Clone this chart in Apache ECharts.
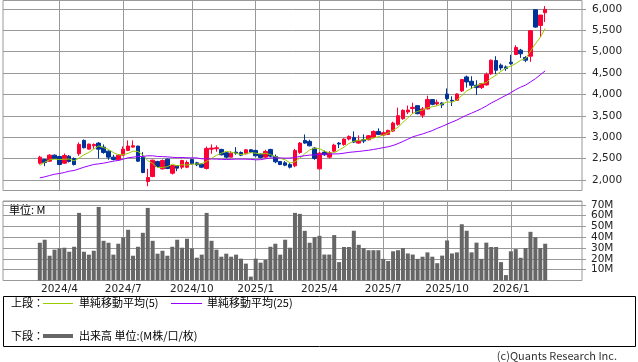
<!DOCTYPE html>
<html><head><meta charset="utf-8">
<script src="https://cdn.jsdelivr.net/npm/echarts/dist/echarts.min.js"></script>
<style>html,body{margin:0;padding:0;background:#fff}#c{width:638px;height:362px}</style>
</head><body><div id="c"></div>
<script>
// weekly slots (Monday dates), including empty weeks at both ends of the axis
const categories = [
'2024/1/15','2024/1/22','2024/1/29','2024/2/5','2024/2/12','2024/2/19','2024/2/26',
'2024/3/4','2024/3/11','2024/3/18','2024/3/25','2024/4/1','2024/4/8','2024/4/15','2024/4/22','2024/4/29',
'2024/5/6','2024/5/13','2024/5/20','2024/5/27','2024/6/3','2024/6/10','2024/6/17','2024/6/24',
'2024/7/1','2024/7/8','2024/7/15','2024/7/22','2024/7/29','2024/8/5','2024/8/12','2024/8/19','2024/8/26',
'2024/9/2','2024/9/9','2024/9/16','2024/9/23','2024/9/30','2024/10/7','2024/10/14','2024/10/21','2024/10/28',
'2024/11/4','2024/11/11','2024/11/18','2024/11/25','2024/12/2','2024/12/9','2024/12/16','2024/12/23','2024/12/30',
'2025/1/6','2025/1/13','2025/1/20','2025/1/27','2025/2/3','2025/2/10','2025/2/17','2025/2/24',
'2025/3/3','2025/3/10','2025/3/17','2025/3/24','2025/3/31','2025/4/7','2025/4/14','2025/4/21','2025/4/28',
'2025/5/5','2025/5/12','2025/5/19','2025/5/26','2025/6/2','2025/6/9','2025/6/16','2025/6/23','2025/6/30',
'2025/7/7','2025/7/14','2025/7/21','2025/7/28','2025/8/4','2025/8/11','2025/8/18','2025/8/25',
'2025/9/1','2025/9/8','2025/9/15','2025/9/22','2025/9/29','2025/10/6','2025/10/13','2025/10/20','2025/10/27',
'2025/11/3','2025/11/10','2025/11/17','2025/11/24','2025/12/1','2025/12/8','2025/12/15','2025/12/22','2025/12/29',
'2026/1/5','2026/1/12','2026/1/19','2026/1/26','2026/2/2','2026/2/9','2026/2/16','2026/2/23',
'2026/3/2','2026/3/9','2026/3/16','2026/3/23','2026/3/30','2026/4/6','2026/4/13'
];
const firstWeek = '2024/3/4';

const opens = [2390,2477,2437,2578,2547,2390,2555,2500,2610,2923,2719,2798,2860,2766,2672,2531,2469,2578,2688,2766,
2790,2531,1960,2077,2430,2257,2484,2155,2335,2296,2296,2477,2398,2367,2265,2719,2727,2711,2633,2531,
2649,2641,2610,2704,2688,2602,2531,2711,2547,2430,2398,2359,2328,2641,2923,2900,2743,2257,2649,2531,
2672,2860,2829,2954,2993,2860,2939,2939,3001,3134,3048,3064,3142,3299,3432,3588,3670,3737,3515,3660,
3879,3776,3799,4010,3862,3862,4082,4410,4309,4215,4160,4223,4481,4794,4685,4645,4755,4935,5037,4865,
4896,5984,5616,5914];
const closes = [2531,2406,2578,2500,2359,2570,2430,2359,2829,2751,2837,2829,2719,2641,2531,2477,2578,2719,2790,2798,
2437,2171,2054,2461,2312,2453,2265,2335,2273,2453,2406,2375,2351,2296,2735,2743,2751,2586,2531,2625,
2625,2578,2704,2649,2563,2524,2665,2555,2422,2359,2343,2296,2688,2860,2860,2798,2500,2625,2586,2633,
2813,2837,2954,3017,2884,2923,2908,3032,3134,3064,3103,3158,3330,3502,3627,3635,3698,3549,3660,3880,
3768,3816,3753,3905,3847,4011,4348,4293,4215,4160,4254,4473,4802,4567,4622,4606,4724,5100,4951,4802,
5491,5577,5859,5992];
const lows = [2359,2320,2422,2484,2343,2374,2406,2335,2563,2735,2711,2727,2500,2610,2469,2453,2453,2563,2672,2751,
2422,2155,1850,2062,2289,2242,2250,2124,2202,2250,2273,2359,2320,2281,2242,2610,2657,2571,2500,2531,
2586,2555,2594,2625,2547,2500,2516,2531,2390,2343,2320,2265,2296,2610,2845,2782,2469,2242,2563,2500,
2649,2743,2798,2923,2860,2845,2860,2923,2978,3048,3032,3048,3118,3267,3408,3540,3540,3533,3450,3650,
3746,3737,3680,3862,3729,3847,4058,4160,4129,3988,4129,4207,4458,4473,4567,4551,4692,4919,4857,4755,
4763,5562,5342,5695];
const highs = [2563,2492,2602,2594,2563,2618,2578,2524,2876,2947,2845,2852,2884,2829,2688,2586,2594,2782,2923,2923,
2798,2649,2257,2470,2445,2477,2500,2351,2340,2469,2453,2492,2422,2383,2782,2829,2806,2727,2649,2672,
2766,2665,2719,2719,2704,2618,2704,2727,2594,2437,2437,2390,2727,2884,3064,2939,2766,2649,2688,2672,
2845,2884,2970,3040,3134,3040,3064,3048,3158,3205,3134,3174,3361,3690,3651,3740,3807,3745,3706,3970,
3894,3879,3823,4140,3956,4027,4364,4442,4426,4332,4270,4512,4818,4896,4724,4677,4927,5154,5068,4896,
5507,6000,5859,6070];
const ma5 = [2336,2414,2469,2484,2475,2483,2487,2444,2509,2588,2641,2721,2793,2755,2711,2639,2589,2589,2619,2672,
2664,2583,2450,2384,2287,2290,2309,2365,2328,2356,2346,2368,2372,2376,2433,2500,2575,2622,2669,2647,
2624,2589,2613,2636,2624,2604,2621,2591,2546,2505,2469,2395,2422,2509,2609,2700,2741,2729,2674,2628,
2631,2699,2765,2851,2901,2923,2937,2953,2976,3012,3048,3098,3158,3231,3344,3450,3558,3602,3635,3686,
3712,3736,3777,3824,3818,3866,3973,4081,4143,4205,4254,4279,4381,4451,4544,4614,4664,4724,4801,4837,
5014,5184,5336,5544];
const ma25 = [2046,2070,2101,2132,2148,2171,2203,2218,2257,2296,2328,2359,2374,2390,2414,2437,2453,2484,2516,2531,
2547,2547,2563,2563,2547,2544,2538,2528,2519,2523,2516,2514,2514,2492,2492,2488,2485,2480,2475,2479,
2485,2485,2484,2479,2469,2473,2493,2513,2511,2513,2508,2510,2524,2547,2564,2579,2584,2595,2607,2603,
2606,2609,2624,2643,2654,2665,2679,2692,2711,2731,2754,2774,2805,2848,2899,2951,3007,3041,3073,3114,
3153,3206,3251,3304,3352,3400,3460,3514,3562,3613,3666,3729,3800,3857,3919,3979,4042,4113,4171,4218,
4292,4367,4460,4553];
// volume in millions
const volumes = [34.9,37.7,22.9,28.5,29.7,30.3,26.6,31.2,62.5,26.6,23.9,27.5,68.0,36.7,34.9,23.9,34.0,39.8,46.9,22.9,
31.2,44.1,67.1,36.7,24.8,27.5,22.9,31.2,37.7,30.3,38.6,29.7,21.1,23.9,62.5,36.7,28.5,22.0,24.8,22.0,
23.9,20.2,15.6,3.6,20.2,16.5,19.2,31.2,34.0,23.9,37.7,30.3,62.5,61.6,45.9,34.9,40.1,41.3,24,24,
42,17,31,31,46,33,30,28,28,28,20,18,27,28,30,25,24,20,22,26,
22,16,23,37,25,26,52,46,26,35,20,35,31,31,17,5,27,29,21,30,
45,40,30,34];
const priceTicks = [2000,2500,3000,3500,4000,4500,5000,5500,6000];
const volumeTicks = [10,20,30,40,50,60,70];

const RED = '#ff0033', BLUE = '#003399';
const off = categories.indexOf(firstWeek);
const lastIdx = off + opens.length - 1;
function pad(arr, empty) {
  const out = categories.map(() => empty);
  arr.forEach((v, i) => { out[off + i] = v; });
  return out;
}
const candleData = pad(opens.map((o, i) => [o, closes[i], lows[i], highs[i]]), ['-','-','-','-']);

function isQuarterStart(idx) {
  if (idx <= off || idx > lastIdx) return false;
  const m = +categories[idx].split('/')[1];
  const pm = +categories[idx - 1].split('/')[1];
  return m !== pm && (m === 1 || m === 4 || m === 7 || m === 10);
}
const FONT = 'DejaVu Sans';
const JP = '"Noto Sans CJK JP", sans-serif';
const GRID_C = '#999999';

const chart = echarts.init(document.getElementById('c'), null, {renderer: 'canvas'});
const xCommon = {
  type: 'category', data: categories, boundaryGap: true,
  axisLine: {show: false}, axisTick: {show: false},
  splitLine: {show: true, alignWithLabel: true, interval: (i) => isQuarterStart(i), lineStyle: {color: GRID_C, width: 1}}
};
chart.setOption({
  animation: false,
  backgroundColor: '#fff',
  grid: [
    {left: 3, right: 56, top: 0.5, height: 190, show: true, borderColor: GRID_C, borderWidth: 1, backgroundColor: 'transparent'},
    {left: 3, right: 56, top: 201, height: 79.5, show: true, borderColor: GRID_C, borderWidth: 1, backgroundColor: 'transparent'}
  ],
  xAxis: [
    Object.assign({}, xCommon, {gridIndex: 0, axisLabel: {show: false}}),
    Object.assign({}, xCommon, {gridIndex: 1, axisLabel: {show: true, interval: (i) => isQuarterStart(i), margin: 3,
      fontFamily: FONT, fontSize: 10.5, color: '#222',
      formatter: (v) => { const p = v.split('/'); return p[0] + '/' + p[1]; }}})
  ],
  yAxis: [
    {type: 'value', gridIndex: 0, position: 'right', min: 1750, max: 6200, splitNumber: 9, minInterval: 500, maxInterval: 500,
     axisLine: {show: false}, axisTick: {show: true, length: 4, lineStyle: {color: GRID_C}},
     axisLabel: {showMinLabel: false, showMaxLabel: false, margin: 10, fontFamily: FONT, fontSize: 10.5, color: '#222',
       formatter: (v) => priceTicks.includes(v) ? v.toLocaleString('en-US') : ''},
     splitLine: {show: true, lineStyle: {color: GRID_C, width: 1}}},
    {type: 'value', gridIndex: 1, position: 'right', min: 0, max: 73.5, interval: 10,
     axisLine: {show: false}, axisTick: {show: true, length: 4, lineStyle: {color: GRID_C}},
     axisLabel: {showMinLabel: false, showMaxLabel: false, margin: 9, fontFamily: FONT, fontSize: 10.5, color: '#222',
       formatter: (v) => volumeTicks.includes(v) ? v + 'M' : ''},
     splitLine: {show: true, lineStyle: {color: GRID_C, width: 1}}}
  ],
  series: [
    {type: 'candlestick', xAxisIndex: 0, yAxisIndex: 0, data: candleData, barWidth: 4,
     itemStyle: {color: RED, color0: BLUE, borderColor: RED, borderColor0: BLUE, borderWidth: 1}, z: 3},
    {type: 'line', xAxisIndex: 0, yAxisIndex: 0, data: pad(ma5, '-'), symbol: 'none',
     lineStyle: {color: '#99cc00', width: 1}, z: 4},
    {type: 'line', xAxisIndex: 0, yAxisIndex: 0, data: pad(ma25, '-'), symbol: 'none',
     lineStyle: {color: '#9900ff', width: 1}, z: 4},
    {type: 'bar', xAxisIndex: 1, yAxisIndex: 1, data: pad(volumes, '-'), barWidth: 4,
     itemStyle: {color: '#666666'}}
  ],
  graphic: [
    {type: 'text', left: 9, top: 204, style: {text: '単位: M', font: '11px ' + JP, fill: '#000'}},
    {type: 'rect', shape: {x: 3.5, y: 296.5, width: 632, height: 50}, style: {fill: 'transparent', stroke: '#000', lineWidth: 1}},
    {type: 'text', x: 11, y: 303, style: {text: '上段：', font: '11px ' + JP, fill: '#000', verticalAlign: 'middle'}},
    {type: 'line', shape: {x1: 43, y1: 303.5, x2: 73, y2: 303.5}, style: {stroke: '#99cc00', lineWidth: 1}},
    {type: 'text', x: 79, y: 303, style: {text: '単純移動平均(5)', font: '11px ' + JP, fill: '#000', verticalAlign: 'middle'}},
    {type: 'line', shape: {x1: 171, y1: 303.5, x2: 202, y2: 303.5}, style: {stroke: '#9900ff', lineWidth: 1}},
    {type: 'text', x: 207, y: 303, style: {text: '単純移動平均(25)', font: '11px ' + JP, fill: '#000', verticalAlign: 'middle'}},
    {type: 'text', x: 11, y: 336, style: {text: '下段：', font: '11px ' + JP, fill: '#000', verticalAlign: 'middle'}},
    {type: 'rect', shape: {x: 43, y: 334, width: 30, height: 4}, style: {fill: '#666666'}},
    {type: 'text', x: 79, y: 336, style: {text: '出来高 単位:(M株/口/枚)', font: '11px ' + JP, fill: '#000', verticalAlign: 'middle'}},
    {type: 'text', x: 617, y: 356, style: {text: '(c)Quants Research Inc.', font: '11px ' + JP, fill: '#333', align: 'right', verticalAlign: 'middle'}}
  ]
});
</script></body></html>
